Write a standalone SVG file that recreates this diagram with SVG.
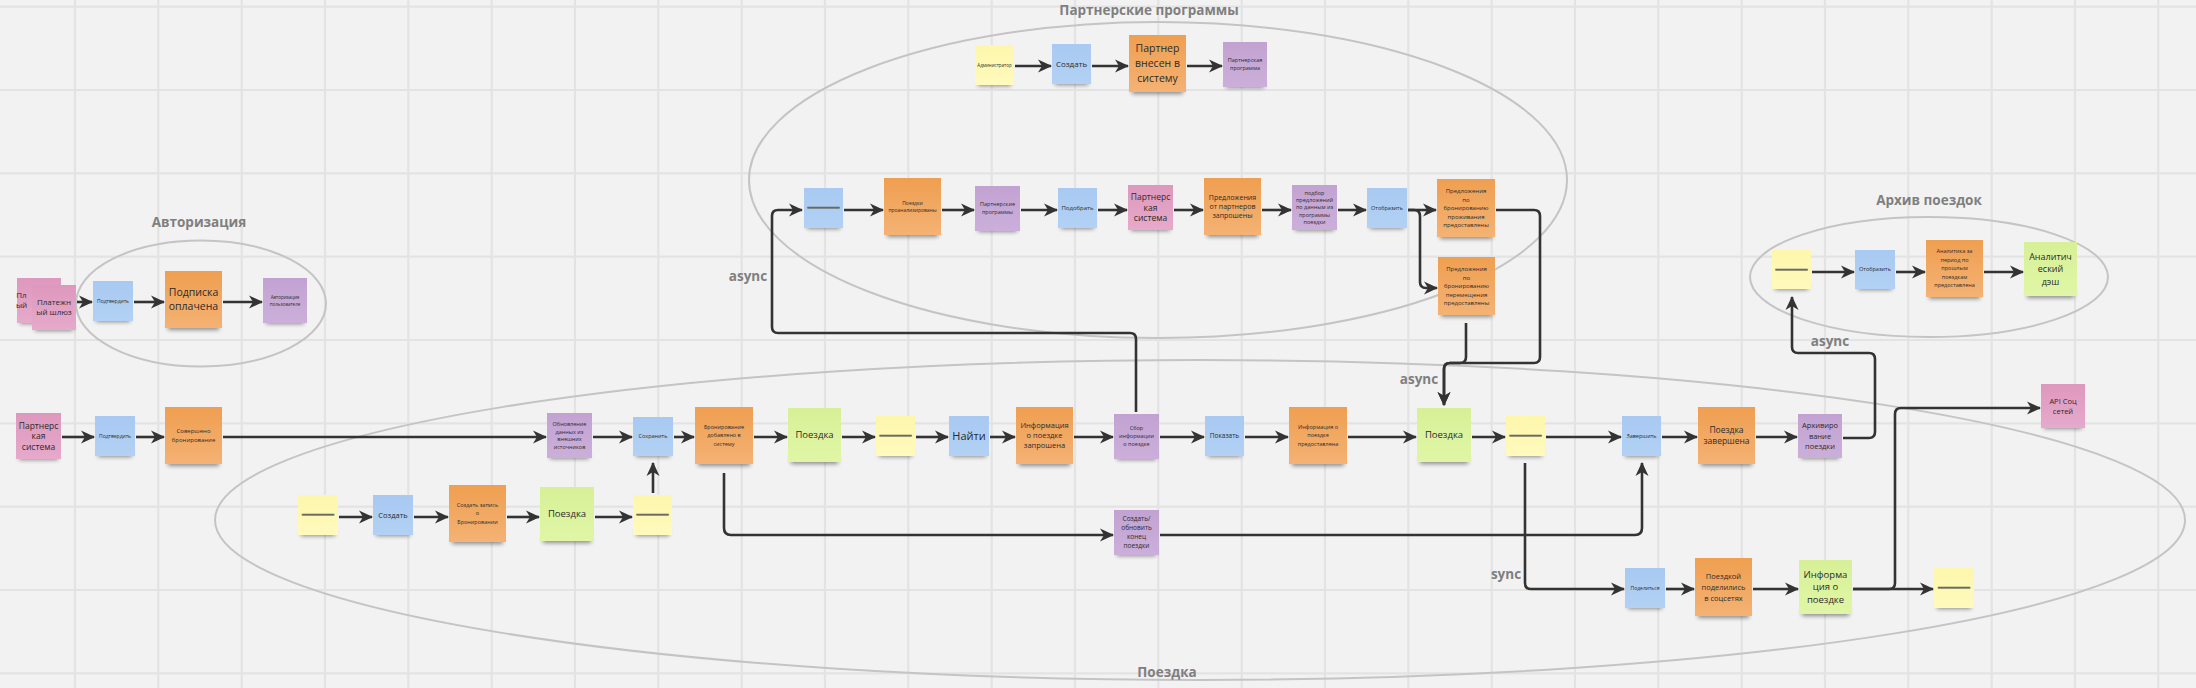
<svg xmlns="http://www.w3.org/2000/svg" width="2196" height="688" viewBox="0 0 2196 688">
<defs>
<style>
.bg{fill:#f2f2f2}
.grid line{stroke:#e3e3e3;stroke-width:2.2}
.sh{fill:#000;opacity:.42;filter:url(#blur)}
.y{fill:url(#gy)}.b{fill:url(#gb)}.o{fill:url(#go)}.p{fill:url(#gp)}.k{fill:url(#gk)}.g{fill:url(#gg)}
text{font-family:"Open Sans","Liberation Sans",sans-serif;fill:#2b2b2b;text-anchor:middle}
.dash{font-family:"Liberation Sans",sans-serif;font-size:16px;fill:#6a6a60;stroke:#6a6a60;stroke-width:0.5}
.ttl{font-size:13.5px;font-weight:bold;fill:#7f7f7f}
.ell{fill:none;stroke:#c4c4c4;stroke-width:2}
.c{fill:none;stroke:#333;stroke-width:2.6;stroke-linejoin:round;marker-end:url(#ah)}
</style>
<filter id="blur" x="-30%" y="-150%" width="160%" height="400%"><feGaussianBlur stdDeviation="2.2"/></filter>
<linearGradient id="gy" x1="0" y1="0" x2="0" y2="1"><stop offset="0" stop-color="#fdf6ac"/><stop offset="1" stop-color="#fffabd"/></linearGradient>
<linearGradient id="gb" x1="0" y1="0" x2="0" y2="1"><stop offset="0" stop-color="#a8c9f1"/><stop offset="1" stop-color="#b2d1f4"/></linearGradient>
<linearGradient id="go" x1="0" y1="0" x2="0" y2="1"><stop offset="0" stop-color="#ef9f50"/><stop offset="1" stop-color="#f4b274"/></linearGradient>
<linearGradient id="gp" x1="0" y1="0" x2="0" y2="1"><stop offset="0" stop-color="#c2a2d2"/><stop offset="1" stop-color="#cbafda"/></linearGradient>
<linearGradient id="gk" x1="0" y1="0" x2="0" y2="1"><stop offset="0" stop-color="#de98bd"/><stop offset="1" stop-color="#e6aacb"/></linearGradient>
<linearGradient id="gg" x1="0" y1="0" x2="0" y2="1"><stop offset="0" stop-color="#d7f097"/><stop offset="1" stop-color="#e0f6a6"/></linearGradient>
<marker id="ah" viewBox="0 0 14 14" refX="13" refY="7" markerWidth="14" markerHeight="14" markerUnits="userSpaceOnUse" orient="auto"><path d="M0,0.5 L14,7 L0,13.5 L4,7 Z" fill="#333"/></marker>
</defs>
<rect class="bg" x="0" y="0" width="2196" height="688"/>
<g class="grid">
<line x1="75" y1="0" x2="75" y2="688"/><line x1="158.3" y1="0" x2="158.3" y2="688"/><line x1="241.7" y1="0" x2="241.7" y2="688"/><line x1="325" y1="0" x2="325" y2="688"/><line x1="408.3" y1="0" x2="408.3" y2="688"/><line x1="491.7" y1="0" x2="491.7" y2="688"/><line x1="575" y1="0" x2="575" y2="688"/><line x1="658.3" y1="0" x2="658.3" y2="688"/><line x1="741.7" y1="0" x2="741.7" y2="688"/><line x1="825" y1="0" x2="825" y2="688"/><line x1="908.3" y1="0" x2="908.3" y2="688"/><line x1="991.7" y1="0" x2="991.7" y2="688"/><line x1="1075" y1="0" x2="1075" y2="688"/><line x1="1158.3" y1="0" x2="1158.3" y2="688"/><line x1="1241.7" y1="0" x2="1241.7" y2="688"/><line x1="1325" y1="0" x2="1325" y2="688"/><line x1="1408.3" y1="0" x2="1408.3" y2="688"/><line x1="1491.7" y1="0" x2="1491.7" y2="688"/><line x1="1575" y1="0" x2="1575" y2="688"/><line x1="1658.3" y1="0" x2="1658.3" y2="688"/><line x1="1741.7" y1="0" x2="1741.7" y2="688"/><line x1="1825" y1="0" x2="1825" y2="688"/><line x1="1908.3" y1="0" x2="1908.3" y2="688"/><line x1="1991.7" y1="0" x2="1991.7" y2="688"/><line x1="2075" y1="0" x2="2075" y2="688"/><line x1="2158.3" y1="0" x2="2158.3" y2="688"/>
<line x1="0" y1="6.7" x2="2196" y2="6.7"/><line x1="0" y1="90" x2="2196" y2="90"/><line x1="0" y1="173.3" x2="2196" y2="173.3"/><line x1="0" y1="256.7" x2="2196" y2="256.7"/><line x1="0" y1="340" x2="2196" y2="340"/><line x1="0" y1="423.3" x2="2196" y2="423.3"/><line x1="0" y1="506.7" x2="2196" y2="506.7"/><line x1="0" y1="590" x2="2196" y2="590"/><line x1="0" y1="673.3" x2="2196" y2="673.3"/>
</g>
<g id="frames">
<ellipse class="ell" cx="201" cy="303.5" rx="125" ry="63"/>
<ellipse class="ell" cx="1158" cy="180" rx="409" ry="158"/>
<ellipse class="ell" cx="1929" cy="277" rx="179" ry="60"/>
<ellipse class="ell" cx="1200" cy="520" rx="985" ry="160"/>
<text class="ttl" x="199" y="227">Авторизация</text>
<text class="ttl" x="1149" y="15">Партнерские программы</text>
<text class="ttl" x="1929" y="205">Архив поездок</text>
<text class="ttl" x="1167" y="677">Поездка</text>
<text class="ttl" x="748" y="281">async</text>
<text class="ttl" x="1419" y="384">async</text>
<text class="ttl" x="1830" y="346">async</text>
<text class="ttl" x="1506" y="579">sync</text>
</g>
<g id="connectors">
<path class="c" d="M77,302 H92"/>
<path class="c" d="M134,302 H164"/>
<path class="c" d="M223,302 H262"/>
<path class="c" d="M1015,66 H1051"/>
<path class="c" d="M1092,66 H1128"/>
<path class="c" d="M1187,66 H1222"/>
<path class="c" d="M844,210 H883"/>
<path class="c" d="M942,210 H974"/>
<path class="c" d="M1021,210 H1057"/>
<path class="c" d="M1098,210 H1127"/>
<path class="c" d="M1174,210 H1203"/>
<path class="c" d="M1262,210 H1291"/>
<path class="c" d="M1338,210 H1366"/>
<path class="c" d="M1408,210 H1436"/>
<path class="c" d="M1408,210 H1414 Q1420,210 1420,216 V282 Q1420,288 1426,288 H1437"/>
<path class="c" d="M1136,412 V339 Q1136,333 1130,333 H778 Q772,333 772,327 V216 Q772,210 778,210 H802"/>
<path class="c" d="M1496,210 H1534 Q1540,210 1540,216 V357 Q1540,363 1534,363 H1450 Q1444,363 1444,369 V405"/>
<path class="c" d="M1466,323 V357 Q1466,363 1460,363 H1450 Q1444,363 1444,369 V405"/>
<path class="c" d="M1812,272 H1854"/>
<path class="c" d="M1896,272 H1925"/>
<path class="c" d="M1984,272 H2023"/>
<path class="c" d="M62,437 H94"/>
<path class="c" d="M136,437 H164"/>
<path class="c" d="M223,437 H546"/>
<path class="c" d="M593,437 H632"/>
<path class="c" d="M674,437 H694"/>
<path class="c" d="M754,437 H787"/>
<path class="c" d="M842,437 H875"/>
<path class="c" d="M916,437 H948"/>
<path class="c" d="M990,437 H1015"/>
<path class="c" d="M1074,437 H1113"/>
<path class="c" d="M1160,437 H1204"/>
<path class="c" d="M1245,437 H1288"/>
<path class="c" d="M1348,437 H1416"/>
<path class="c" d="M1472,437 H1505"/>
<path class="c" d="M1546,437 H1621"/>
<path class="c" d="M1662,437 H1697"/>
<path class="c" d="M1756,437 H1797"/>
<path class="c" d="M339,517 H372"/>
<path class="c" d="M414,517 H448"/>
<path class="c" d="M507,517 H539"/>
<path class="c" d="M595,517 H632"/>
<path class="c" d="M653,493 V463"/>
<path class="c" d="M724,473 V528 Q724,535 731,535 H1113"/>
<path class="c" d="M1160,535 H1635 Q1642,535 1642,528 V463"/>
<path class="c" d="M1525,463 V583 Q1525,589 1531,589 H1624"/>
<path class="c" d="M1843,438 H1869 Q1875,438 1875,432 V359 Q1875,353 1869,353 H1798 Q1792,353 1792,347 V297"/>
<path class="c" d="M1666,589 H1694"/>
<path class="c" d="M1753,589 H1798"/>
<path class="c" d="M1853,589 H1933"/>
<path class="c" d="M1853,589 H1889 Q1895,589 1895,583 V414 Q1895,408 1901,408 H2040"/>
</g>
<g id="n_pay_back"><rect class="sh" x="20" y="318" width="38" height="6"/><rect class="k" x="17" y="278" width="44" height="45"/><text font-size="8" x="21.5" y="297.8" text-anchor="start">Пл<tspan x="21.5" dy="10.5">ый</tspan></text></g>
<g id="n_pay_front"><rect class="sh" x="35" y="325" width="38" height="6"/><rect class="k" x="32" y="285" width="44" height="45"/><text font-size="8" x="54" y="304.6">Платежн<tspan x="54" dy="10.5">ый шлюз</tspan></text></g>
<g id="n_auth_confirm"><rect class="sh" x="96" y="316" width="34" height="6"/><rect class="b" x="93" y="281" width="40" height="40"/><text font-size="5" x="113" y="302.8">Подтвердить</text></g>
<g id="n_sub_paid"><rect class="sh" x="168" y="323" width="51" height="7"/><rect class="o" x="165" y="271" width="57" height="57"/><text font-size="10.5" x="193.5" y="296.4">Подписка<tspan x="193.5" dy="13.5">оплачена</tspan></text></g>
<g id="n_auth_user"><rect class="sh" x="266" y="318" width="38" height="6"/><rect class="p" x="263" y="278" width="44" height="45"/><text font-size="4.5" x="285" y="298.6">Авторизация<tspan x="285" dy="7">пользователя</tspan></text></g>
<g id="n_admin"><rect class="sh" x="978" y="80" width="33" height="6"/><rect class="y" x="975" y="45" width="39" height="40"/><text font-size="4.5" x="994.5" y="66.6">Администратор</text></g>
<g id="n_create_p"><rect class="sh" x="1055" y="79" width="33" height="6"/><rect class="b" x="1052" y="44" width="39" height="40"/><text font-size="8" x="1071.5" y="66.8">Создать</text></g>
<g id="n_partner_added"><rect class="sh" x="1132" y="87" width="51" height="7"/><rect class="o" x="1129" y="35" width="57" height="57"/><text font-size="10.5" x="1157.5" y="52.2">Партнер<tspan x="1157.5" dy="15">внесен в</tspan><tspan x="1157.5" dy="15">систему</tspan></text></g>
<g id="n_partner_prog"><rect class="sh" x="1226" y="82" width="38" height="6"/><rect class="p" x="1223" y="42" width="44" height="45"/><text font-size="5.5" x="1245" y="62.4">Партнерская<tspan x="1245" dy="8">программа</tspan></text></g>
<g id="n_p_dash"><rect class="sh" x="807" y="223" width="33" height="6"/><rect class="b" x="804" y="188" width="39" height="40"/><text class="dash" x="823.5" y="212">——</text></g>
<g id="n_trips_analyzed"><rect class="sh" x="887" y="230" width="51" height="7"/><rect class="o" x="884" y="178" width="57" height="57"/><text font-size="5" x="912.5" y="204.5">Поездки<tspan x="912.5" dy="7.5">проанализированы</tspan></text></g>
<g id="n_partner_progs"><rect class="sh" x="978" y="226" width="39" height="6"/><rect class="p" x="975" y="186" width="45" height="45"/><text font-size="5.5" x="997.5" y="206.4">Партнерские<tspan x="997.5" dy="8">программы</tspan></text></g>
<g id="n_pick"><rect class="sh" x="1061" y="223" width="33" height="6"/><rect class="b" x="1058" y="188" width="39" height="40"/><text font-size="6" x="1077.5" y="210.1">Подобрать</text></g>
<g id="n_partner_sys2"><rect class="sh" x="1131" y="225" width="39" height="6"/><rect class="k" x="1128" y="185" width="45" height="45"/><text font-size="8.5" x="1150.5" y="200">Партнерс<tspan x="1150.5" dy="10.5">кая</tspan><tspan x="1150.5" dy="10.5">система</tspan></text></g>
<g id="n_offers_req"><rect class="sh" x="1207" y="230" width="51" height="7"/><rect class="o" x="1204" y="178" width="57" height="57"/><text font-size="7" x="1232.5" y="199.8">Предложения<tspan x="1232.5" dy="9.2">от партнеров</tspan><tspan x="1232.5" dy="9.2">запрошены</tspan></text></g>
<g id="n_offer_pick"><rect class="sh" x="1295" y="225" width="39" height="6"/><rect class="p" x="1292" y="185" width="45" height="45"/><text font-size="5.5" x="1314.5" y="195.2">подбор<tspan x="1314.5" dy="7.1">предложений</tspan><tspan x="1314.5" dy="7.1">по данным из</tspan><tspan x="1314.5" dy="7.1">программы</tspan><tspan x="1314.5" dy="7.1">поездки</tspan></text></g>
<g id="n_show_offers"><rect class="sh" x="1370" y="223" width="34" height="6"/><rect class="b" x="1367" y="188" width="40" height="40"/><text font-size="5.5" x="1387" y="209.9">Отобразить</text></g>
<g id="n_offers_stay"><rect class="sh" x="1440" y="232" width="52" height="7"/><rect class="o" x="1437" y="179" width="58" height="58"/><text font-size="6" x="1466" y="192.9">Предложения<tspan x="1466" dy="8.6">по</tspan><tspan x="1466" dy="8.6">бронированию</tspan><tspan x="1466" dy="8.6">проживания</tspan><tspan x="1466" dy="8.6">предоставлены</tspan></text></g>
<g id="n_offers_move"><rect class="sh" x="1441" y="310" width="51" height="7"/><rect class="o" x="1438" y="257" width="57" height="58"/><text font-size="6" x="1466.5" y="270.9">Предложения<tspan x="1466.5" dy="8.6">по</tspan><tspan x="1466.5" dy="8.6">бронированию</tspan><tspan x="1466.5" dy="8.6">перемещения</tspan><tspan x="1466.5" dy="8.6">предоставлены</tspan></text></g>
<g id="n_arch_dash"><rect class="sh" x="1775" y="284" width="33" height="6"/><rect class="y" x="1772" y="250" width="39" height="39"/><text class="dash" x="1791.5" y="273.5">——</text></g>
<g id="n_arch_show"><rect class="sh" x="1858" y="284" width="34" height="6"/><rect class="b" x="1855" y="250" width="40" height="39"/><text font-size="5.5" x="1875" y="271.4">Отобразить</text></g>
<g id="n_analytics"><rect class="sh" x="1929" y="292" width="51" height="7"/><rect class="o" x="1926" y="240" width="57" height="57"/><text font-size="5.5" x="1954.5" y="253.4">Аналитика за<tspan x="1954.5" dy="8.5">период по</tspan><tspan x="1954.5" dy="8.5">прошлым</tspan><tspan x="1954.5" dy="8.5">поездкам</tspan><tspan x="1954.5" dy="8.5">предоставлена</tspan></text></g>
<g id="n_dash"><rect class="sh" x="2027" y="291" width="47" height="7"/><rect class="g" x="2024" y="242" width="53" height="54"/><text font-size="9" x="2050.5" y="259.7">Аналитич<tspan x="2050.5" dy="12.5">еский</tspan><tspan x="2050.5" dy="12.5">дэш</tspan></text></g>
<g id="n_partner_sys"><rect class="sh" x="19" y="454" width="39" height="6"/><rect class="k" x="16" y="413" width="45" height="46"/><text font-size="8.5" x="38.5" y="428.5">Партнерс<tspan x="38.5" dy="10.5">кая</tspan><tspan x="38.5" dy="10.5">система</tspan></text></g>
<g id="n_confirm2"><rect class="sh" x="98" y="451" width="34" height="6"/><rect class="b" x="95" y="416" width="40" height="40"/><text font-size="5" x="115" y="437.8">Подтвердить</text></g>
<g id="n_booked"><rect class="sh" x="168" y="459" width="51" height="7"/><rect class="o" x="165" y="407" width="57" height="57"/><text font-size="6" x="193.5" y="433.4">Совершено<tspan x="193.5" dy="8.5">бронирование</tspan></text></g>
<g id="n_update"><rect class="sh" x="550" y="453" width="39" height="6"/><rect class="p" x="547" y="413" width="45" height="45"/><text font-size="5.5" x="569.5" y="425.9">Обновление<tspan x="569.5" dy="7.7">данных из</tspan><tspan x="569.5" dy="7.7">внешних</tspan><tspan x="569.5" dy="7.7">источников</tspan></text></g>
<g id="n_save"><rect class="sh" x="636" y="451" width="34" height="6"/><rect class="b" x="633" y="417" width="40" height="39"/><text font-size="5.5" x="653" y="438.4">Сохранить</text></g>
<g id="n_booking_added"><rect class="sh" x="698" y="459" width="52" height="7"/><rect class="o" x="695" y="407" width="58" height="57"/><text font-size="5.5" x="724" y="428.9">Бронирование<tspan x="724" dy="8.5">добавлено в</tspan><tspan x="724" dy="8.5">систему</tspan></text></g>
<g id="n_trip1"><rect class="sh" x="791" y="457" width="47" height="7"/><rect class="g" x="788" y="408" width="53" height="54"/><text font-size="9.5" x="814.5" y="438.3">Поездка</text></g>
<g id="n_dash1"><rect class="sh" x="879" y="451" width="33" height="6"/><rect class="y" x="876" y="416" width="39" height="40"/><text class="dash" x="895.5" y="440">——</text></g>
<g id="n_find"><rect class="sh" x="952" y="451" width="34" height="6"/><rect class="b" x="949" y="416" width="40" height="40"/><text font-size="11" x="969" y="439.9">Найти</text></g>
<g id="n_info_req"><rect class="sh" x="1019" y="459" width="51" height="7"/><rect class="o" x="1016" y="407" width="57" height="57"/><text font-size="7.5" x="1044.5" y="428.1">Информация<tspan x="1044.5" dy="10">о поездке</tspan><tspan x="1044.5" dy="10">запрошена</tspan></text></g>
<g id="n_collect"><rect class="sh" x="1117" y="454" width="39" height="6"/><rect class="p" x="1114" y="414" width="45" height="45"/><text font-size="5.5" x="1136.5" y="430.4">Сбор<tspan x="1136.5" dy="8">информации</tspan><tspan x="1136.5" dy="8">о поездке</tspan></text></g>
<g id="n_show"><rect class="sh" x="1208" y="451" width="33" height="6"/><rect class="b" x="1205" y="416" width="39" height="40"/><text font-size="6.5" x="1224.5" y="438.3">Показать</text></g>
<g id="n_info_given"><rect class="sh" x="1292" y="459" width="52" height="7"/><rect class="o" x="1289" y="407" width="58" height="57"/><text font-size="5.5" x="1318" y="428.9">Информация о<tspan x="1318" dy="8.5">поездке</tspan><tspan x="1318" dy="8.5">предоставлена</tspan></text></g>
<g id="n_trip2"><rect class="sh" x="1420" y="457" width="48" height="7"/><rect class="g" x="1417" y="408" width="54" height="54"/><text font-size="9.5" x="1444" y="438.3">Поездка</text></g>
<g id="n_dash2"><rect class="sh" x="1509" y="451" width="33" height="6"/><rect class="y" x="1506" y="416" width="39" height="40"/><text class="dash" x="1525.5" y="440">——</text></g>
<g id="n_finish"><rect class="sh" x="1625" y="451" width="33" height="6"/><rect class="b" x="1622" y="416" width="39" height="40"/><text font-size="5.5" x="1641.5" y="437.9">Завершить</text></g>
<g id="n_trip_done"><rect class="sh" x="1701" y="459" width="51" height="7"/><rect class="o" x="1698" y="407" width="57" height="57"/><text font-size="8.5" x="1726.5" y="432.6">Поездка<tspan x="1726.5" dy="11.7">завершена</tspan></text></g>
<g id="n_archiving"><rect class="sh" x="1801" y="453" width="38" height="6"/><rect class="p" x="1798" y="414" width="44" height="44"/><text font-size="7.5" x="1820" y="428.1">Архивиро<tspan x="1820" dy="10.5">вание</tspan><tspan x="1820" dy="10.5">поездки</tspan></text></g>
<g id="n_api"><rect class="sh" x="2044" y="423" width="38" height="6"/><rect class="k" x="2041" y="384" width="44" height="44"/><text font-size="7.5" x="2063" y="403.5">API Соц<tspan x="2063" dy="10.3">сетей</tspan></text></g>
<g id="n_dash3"><rect class="sh" x="301" y="530" width="34" height="6"/><rect class="y" x="298" y="495" width="40" height="40"/><text class="dash" x="318" y="519">——</text></g>
<g id="n_create2"><rect class="sh" x="376" y="530" width="34" height="6"/><rect class="b" x="373" y="495" width="40" height="40"/><text font-size="7.5" x="393" y="517.6">Создать</text></g>
<g id="n_create_rec"><rect class="sh" x="452" y="537" width="51" height="7"/><rect class="o" x="449" y="485" width="57" height="57"/><text font-size="5.5" x="477.5" y="506.7">Создать запись<tspan x="477.5" dy="8.7">о</tspan><tspan x="477.5" dy="8.7">Бронировании</tspan></text></g>
<g id="n_trip3"><rect class="sh" x="543" y="536" width="48" height="7"/><rect class="g" x="540" y="487" width="54" height="54"/><text font-size="9.5" x="567" y="517.3">Поездка</text></g>
<g id="n_dash4"><rect class="sh" x="636" y="530" width="33" height="6"/><rect class="y" x="633" y="495" width="39" height="40"/><text class="dash" x="652.5" y="519">——</text></g>
<g id="n_create_update"><rect class="sh" x="1117" y="550" width="39" height="6"/><rect class="p" x="1114" y="510" width="45" height="45"/><text font-size="6.5" x="1136.5" y="521.3">Создать/<tspan x="1136.5" dy="9">обновить</tspan><tspan x="1136.5" dy="9">конец</tspan><tspan x="1136.5" dy="9">поездки</tspan></text></g>
<g id="n_share"><rect class="sh" x="1628" y="603" width="34" height="6"/><rect class="b" x="1625" y="568" width="40" height="40"/><text font-size="5" x="1645" y="589.8">Поделиться</text></g>
<g id="n_shared"><rect class="sh" x="1698" y="611" width="51" height="7"/><rect class="o" x="1695" y="558" width="57" height="58"/><text font-size="7.5" x="1723.5" y="578.6">Поездкой<tspan x="1723.5" dy="11">поделились</tspan><tspan x="1723.5" dy="11">в соцсетях</tspan></text></g>
<g id="n_trip_info"><rect class="sh" x="1802" y="609" width="47" height="7"/><rect class="g" x="1799" y="560" width="53" height="54"/><text font-size="9.5" x="1825.5" y="577.5">Информа<tspan x="1825.5" dy="12.8">ция о</tspan><tspan x="1825.5" dy="12.8">поездке</tspan></text></g>
<g id="n_dash5"><rect class="sh" x="1937" y="603" width="34" height="6"/><rect class="y" x="1934" y="568" width="40" height="40"/><text class="dash" x="1954" y="592">——</text></g>
</svg>
